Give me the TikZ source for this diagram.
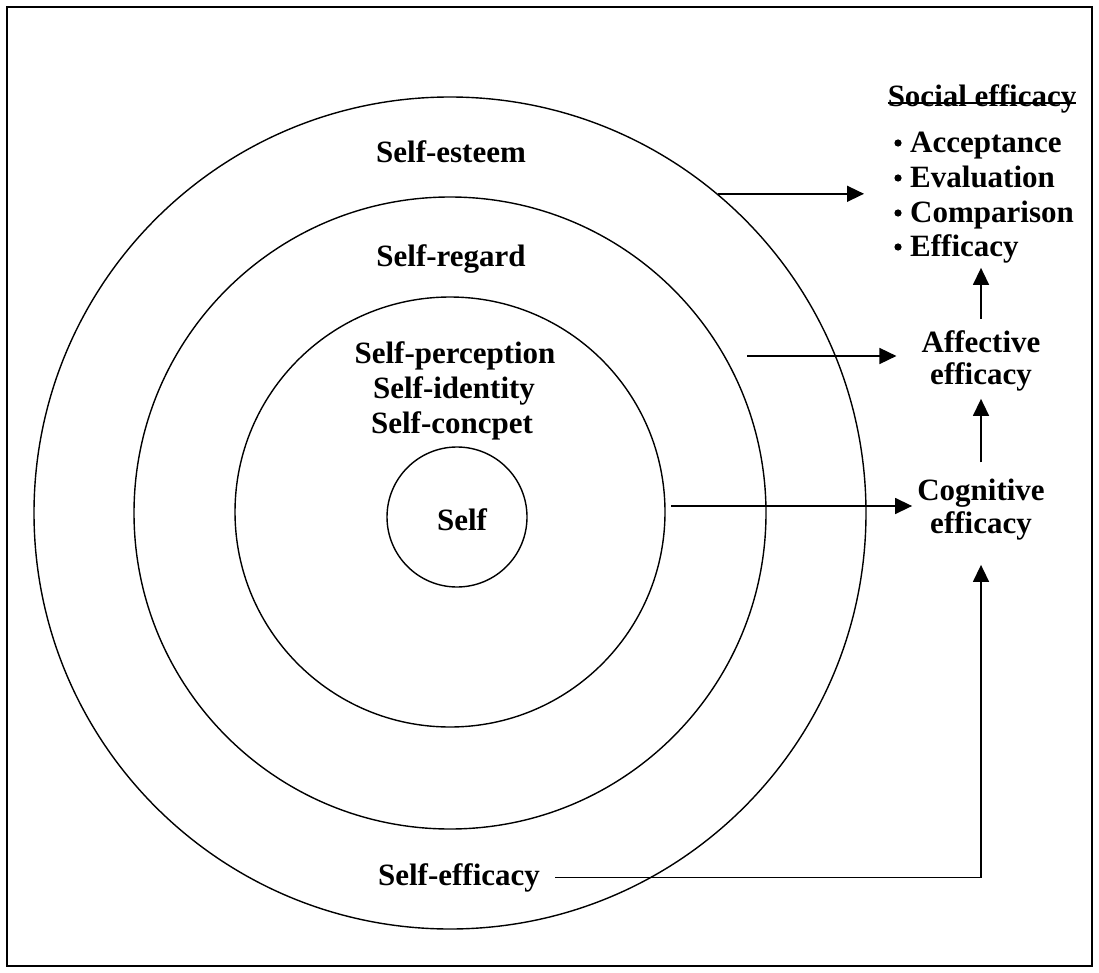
\documentclass[tikz,border=0pt]{standalone}
\usepackage{fontspec}
\setmainfont{Liberation Serif}
\usetikzlibrary{arrows.meta}
\begin{document}
\begin{tikzpicture}[x=1pt,y=-1pt,
  ring/.style={draw, circle, line width=1.4pt, inner sep=0pt},
  lbl/.style={font=\fontsize{31}{35}\selectfont\bfseries, inner sep=0pt, anchor=base},
  lbll/.style={lbl, anchor=base west},
  arr/.style={line width=1.5pt, -{Triangle[length=17pt,width=16pt]}},
  conn/.style={line width=1.5pt}]
\useasboundingbox (0,0) rectangle (1099,973);
\draw[line width=2pt] (7,7) rectangle (1092,966);
% rings
\node[ring, minimum size=832pt] (c1) at (450,513) {};
\node[ring, minimum size=632pt] (c2) at (450,513) {};
\node[ring, minimum size=430pt] (c3) at (450,512) {};
\node[ring, minimum size=140pt] (c4) at (457,517) {};
% ring labels
\node[lbl] (esteem) at (451,163) {Self-esteem};
\node[lbl] (regard) at (451,267) {Self-regard};
\node[lbl] (sp1) at (455,363) {Self-perception};
\node[lbl] (sp2) at (454,398) {Self-identity};
\node[lbl] (sp3) at (452,433) {Self-concpet};
\node[lbl] (self) at (462,530) {Self};
\node[lbl] (se) at (459,885) {Self-efficacy};
% right side
\node[lbl] (soc) at (982,107) {Social efficacy};
\draw[line width=1.5pt] ([yshift=4pt]soc.base west) -- ([yshift=4pt]soc.base east);
\node[lbll] (acc) at (910,153) {Acceptance};
\node[lbll] (eva) at (910,188) {Evaluation};
\node[lbll] (com) at (910,223) {Comparison};
\node[lbll] (eff) at (910,257) {Efficacy};
\foreach \b in {153,188,223,257} \fill (898,\b-10) circle (3.6pt);
\node[lbl] (aff1) at (981,352) {Affective};
\node[lbl] (aff2) at (981,384) {efficacy};
\node[lbl] (cog1) at (981,500) {Cognitive};
\node[lbl] (cog2) at (981,533) {efficacy};
% connectors
\coordinate (s1) at (c1.50.5);
\coordinate (s2) at (747,356);
\coordinate (s3) at (671,506);
\draw[arr, shorten >=46pt] (s1) -- (s1 -| acc.west);
\draw[arr, shorten >=25pt] (s2) -- (s2 -| aff1.west);
\draw[arr, shorten >=5pt] (s3) -- (s3 -| cog1.west);
\draw[arr, shorten <=16pt, shorten >=8pt] (cog1.north) -- (cog1.north |- aff2.south);
\draw[arr, shorten <=11pt, shorten >=4pt] (aff1.north) -- (aff1.north |- eff.south);
\draw[arr, shorten <=15pt, shorten >=25pt] (se.east) -- (se.east -| cog2.south) -- (cog2.south);
\end{tikzpicture}
\end{document}
